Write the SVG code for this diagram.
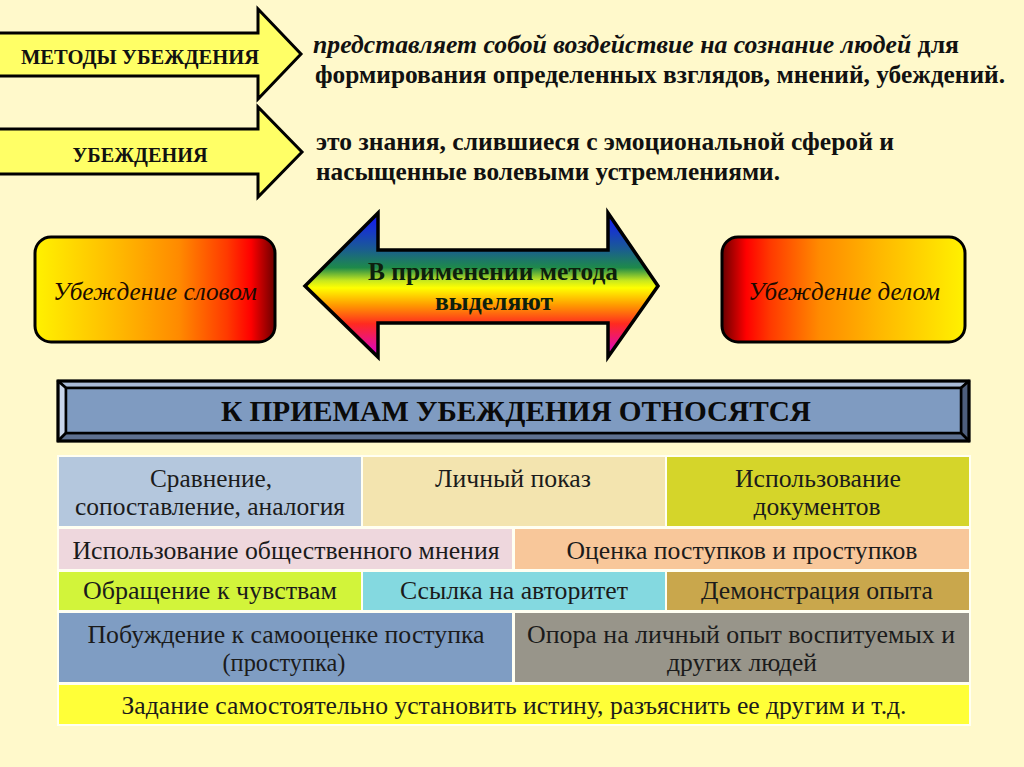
<svg xmlns="http://www.w3.org/2000/svg" width="1024" height="767" viewBox="0 0 1024 767">
<defs>
<linearGradient id="gLeft" x1="0" y1="0" x2="1" y2="0">
<stop offset="0" stop-color="#FFF200"/>
<stop offset="0.35" stop-color="#FFB800"/>
<stop offset="0.6" stop-color="#FF8A00"/>
<stop offset="0.8" stop-color="#FF3A00"/>
<stop offset="0.9" stop-color="#FF0000"/>
<stop offset="1" stop-color="#6A0000"/>
</linearGradient>
<linearGradient id="gRight" x1="1" y1="0" x2="0" y2="0">
<stop offset="0" stop-color="#FFF200"/>
<stop offset="0.35" stop-color="#FFB800"/>
<stop offset="0.6" stop-color="#FF8A00"/>
<stop offset="0.8" stop-color="#FF3A00"/>
<stop offset="0.9" stop-color="#FF0000"/>
<stop offset="1" stop-color="#6A0000"/>
</linearGradient>
<linearGradient id="gRainbow" x1="0" y1="213" x2="0" y2="357" gradientUnits="userSpaceOnUse">
<stop offset="0" stop-color="#1414FF"/>
<stop offset="0.25" stop-color="#1A5C92"/>
<stop offset="0.38" stop-color="#1E8A4A"/>
<stop offset="0.47" stop-color="#C8E81E"/>
<stop offset="0.52" stop-color="#FFFF00"/>
<stop offset="0.64" stop-color="#FF9A00"/>
<stop offset="0.77" stop-color="#FF2A20"/>
<stop offset="1" stop-color="#D800D8"/>
</linearGradient>
<style>
text{font-family:'Liberation Serif','DejaVu Serif','Noto Serif',serif}
.arrowY{fill:#FFFF66;stroke:#000;stroke-width:3;stroke-linejoin:miter}
.lbl{font-weight:bold;fill:#111}
.def{font-weight:bold;font-size:25px;fill:#111}
.it{font-style:italic}
.rr{stroke:#000;stroke-width:3}
.rrt{font-style:italic;font-size:26px;fill:#1a0a00}
.mid{font-weight:bold;font-size:25px;fill:#0d200d}
.bv{stroke:#000;stroke-width:2.5;stroke-linejoin:round}
.ban{font-weight:bold;font-size:29px;fill:#0a0a0a}
.cell{stroke:none}
.ct{font-size:25px;fill:#1b1b1b;text-anchor:middle}
</style>
</defs>
<rect x="0" y="0" width="1024" height="767" fill="#FFF9CB"/>

<g id="arrow-metody">
<path class="arrowY" d="M-5,33 L258,33 L258,9 L301,54 L258,99 L258,76 L-5,76 Z"/>
<text class="lbl" x="140" y="64" font-size="20" text-anchor="middle" textLength="238" lengthAdjust="spacingAndGlyphs">МЕТОДЫ УБЕЖДЕНИЯ</text>
</g>
<g id="arrow-ubezhdenia">
<path class="arrowY" d="M-5,129 L258,129 L258,107 L302,152 L258,197 L258,174 L-5,174 Z"/>
<text class="lbl" x="140" y="162" font-size="20" text-anchor="middle" textLength="135" lengthAdjust="spacingAndGlyphs">УБЕЖДЕНИЯ</text>
</g>

<g id="def-metody">
<text class="def" x="313" y="53" textLength="646" lengthAdjust="spacingAndGlyphs"><tspan class="it">представляет собой воздействие на сознание людей</tspan> для</text>
<text class="def" x="315" y="83" textLength="690" lengthAdjust="spacingAndGlyphs">формирования определенных взглядов, мнений, убеждений.</text>
</g>
<g id="def-ubezhdenia">
<text class="def" x="316" y="150" textLength="578" lengthAdjust="spacingAndGlyphs">это знания, слившиеся с эмоциональной сферой и</text>
<text class="def" x="316" y="180" textLength="464" lengthAdjust="spacingAndGlyphs">насыщенные волевыми устремлениями.</text>
</g>

<g id="node-slovom">
<rect class="rr" x="35" y="237" width="240" height="105" rx="16" ry="16" fill="url(#gLeft)"/>
<text class="rrt" x="155" y="300" text-anchor="middle" textLength="204" lengthAdjust="spacingAndGlyphs">Убеждение словом</text>
</g>
<g id="node-delom">
<rect class="rr" x="722" y="237" width="243" height="105" rx="16" ry="16" fill="url(#gRight)"/>
<text class="rrt" x="844" y="300" text-anchor="middle" textLength="192" lengthAdjust="spacingAndGlyphs">Убеждение делом</text>
</g>

<g id="arrow-center">
<path d="M305,286 L378,213 L378,250 L608,250 L608,213 L658,286 L608,357 L608,323 L378,323 L378,357 Z" fill="url(#gRainbow)" stroke="#000" stroke-width="3.5" stroke-linejoin="miter"/>
<text class="mid" x="493" y="280" text-anchor="middle" textLength="250" lengthAdjust="spacingAndGlyphs">В применении метода</text>
<text class="mid" x="494" y="310" text-anchor="middle" textLength="118" lengthAdjust="spacingAndGlyphs">выделяют</text>
</g>

<g id="banner">
<rect x="58" y="381" width="911" height="60" fill="#7F9BC1"/>
<polygon class="bv" points="58,381 969,381 961,388 66,388" fill="#A9BBD7"/>
<polygon class="bv" points="58,381 66,388 66,433 58,441" fill="#C8D5EA"/>
<polygon class="bv" points="969,381 969,441 961,433 961,388" fill="#4E5E7C"/>
<polygon class="bv" points="58,441 66,433 961,433 969,441" fill="#5E7191"/>
<rect x="66" y="388" width="895" height="45" fill="#7F9BC1" stroke="#000" stroke-width="2.5"/>
<rect x="58" y="381" width="911" height="60" fill="none" stroke="#000" stroke-width="3"/>
<text class="ban" x="516" y="421" text-anchor="middle" textLength="590" lengthAdjust="spacingAndGlyphs">К ПРИЕМАМ УБЕЖДЕНИЯ ОТНОСЯТСЯ</text>
</g>

<g id="connectors"></g>

<rect x="57" y="455" width="914" height="271" fill="#FFFFF2"/>
<g id="cell-sravnenie">
<rect class="cell" x="59" y="457" width="302" height="69" fill="#B4C7DD"/>
<text class="ct" x="211" y="487" textLength="122" lengthAdjust="spacingAndGlyphs">Сравнение,</text>
<text class="ct" x="210" y="515" textLength="270" lengthAdjust="spacingAndGlyphs">сопоставление, аналогия</text>
</g>
<g id="cell-pokaz">
<rect class="cell" x="363" y="457" width="302" height="69" fill="#F3E4AF"/>
<text class="ct" x="513" y="487" textLength="156" lengthAdjust="spacingAndGlyphs">Личный показ</text>
</g>
<g id="cell-dokumenty">
<rect class="cell" x="667" y="457" width="302" height="69" fill="#D5D52A"/>
<text class="ct" x="818" y="487" textLength="166" lengthAdjust="spacingAndGlyphs">Использование</text>
<text class="ct" x="817" y="515" textLength="127" lengthAdjust="spacingAndGlyphs">документов</text>
</g>
<g id="cell-mnenie">
<rect class="cell" x="59" y="529" width="453" height="40" fill="#EED7DD"/>
<text class="ct" x="286" y="559" textLength="427" lengthAdjust="spacingAndGlyphs">Использование общественного мнения</text>
</g>
<g id="cell-ocenka">
<rect class="cell" x="515" y="529" width="454" height="40" fill="#F8C79A"/>
<text class="ct" x="742" y="559" textLength="351" lengthAdjust="spacingAndGlyphs">Оценка поступков и проступков</text>
</g>
<g id="cell-chuvstva">
<rect class="cell" x="59" y="572" width="302" height="38" fill="#D2F43A"/>
<text class="ct" x="210" y="599" textLength="254" lengthAdjust="spacingAndGlyphs">Обращение к чувствам</text>
</g>
<g id="cell-avtoritet">
<rect class="cell" x="363" y="572" width="302" height="38" fill="#84D9E0"/>
<text class="ct" x="514" y="599" textLength="228" lengthAdjust="spacingAndGlyphs">Ссылка на авторитет</text>
</g>
<g id="cell-opyt">
<rect class="cell" x="667" y="572" width="302" height="38" fill="#C9A74C"/>
<text class="ct" x="817" y="599" textLength="232" lengthAdjust="spacingAndGlyphs">Демонстрация опыта</text>
</g>
<g id="cell-samoocenka">
<rect class="cell" x="59" y="613" width="453" height="69" fill="#7F9DC3"/>
<text class="ct" x="286" y="643" textLength="397" lengthAdjust="spacingAndGlyphs">Побуждение к самооценке поступка</text>
<text class="ct" x="284" y="671" textLength="123" lengthAdjust="spacingAndGlyphs">(проступка)</text>
</g>
<g id="cell-opora">
<rect class="cell" x="515" y="613" width="454" height="69" fill="#98958A"/>
<text class="ct" x="741" y="643" textLength="428" lengthAdjust="spacingAndGlyphs">Опора на личный опыт воспитуемых и</text>
<text class="ct" x="742" y="671" textLength="150" lengthAdjust="spacingAndGlyphs">других людей</text>
</g>
<g id="cell-zadanie">
<rect class="cell" x="59" y="685" width="910" height="39" fill="#FFFF38"/>
<text class="ct" x="514" y="714" textLength="785" lengthAdjust="spacingAndGlyphs">Задание самостоятельно установить истину, разъяснить ее другим и т.д.</text>
</g>
</svg>
